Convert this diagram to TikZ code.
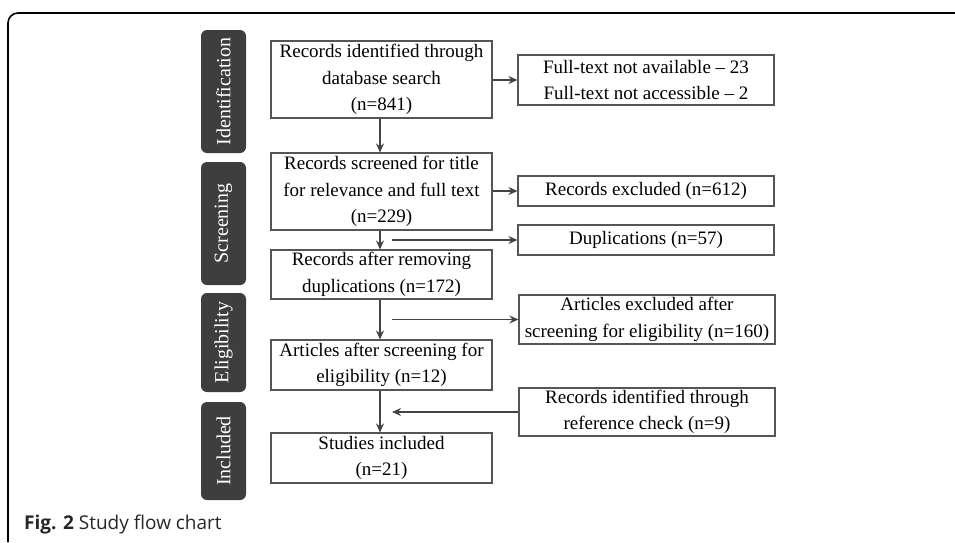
\documentclass[tikz,border=0pt]{standalone}
\usepackage{fontspec}
\setmainfont{Liberation Serif}
\newfontfamily\capfont{Open Sans}
\usetikzlibrary{arrows.meta}
\definecolor{sidegray}{HTML}{3E3E3E}
\definecolor{boxline}{HTML}{555555}
\definecolor{arrowgray}{HTML}{444444}
\begin{document}
\begin{tikzpicture}[x=1pt,y=-1pt,
  txt/.style={font=\fontsize{19}{26.5}\selectfont, align=center, text=black},
  mainbox/.style={txt, draw=boxline, line width=1.1pt, minimum width=221pt, inner sep=0pt},
  sidebox/.style={txt, draw=boxline, line width=1.1pt, minimum width=256pt, inner sep=0pt},
  phase/.style={fill=sidegray, rounded corners=6pt, minimum width=45pt, inner sep=0pt,
     text=white, font=\fontsize{20}{22}\selectfont},
  flow/.style={draw=arrowgray, line width=1.4pt, -{Stealth[length=9pt,width=8pt]}}
]
\useasboundingbox (0,0) rectangle (955,542);
% outer frame
\draw[line width=1.6pt, rounded corners=10pt] (8,542) -- (8,13) -- (955,13);

% phase bars
\node[phase, minimum height=123pt] (pid) at (223.5,91.5) {\rotatebox{90}{Identification}};
\node[phase, minimum height=123pt] (psc) at (223.5,223.5) {\rotatebox{90}{Screening}};
\node[phase, minimum height=99pt] (pel) at (223.5,342.5) {\rotatebox{90}{Eligibility}};
\node[phase, minimum height=98pt] (pin) at (223.5,451) {\rotatebox{90}{Included}};

% main boxes
\node[mainbox, minimum height=77pt] (b1) at (381.5,79.5) {Records identified through\\database search\\(n=841)};
\node[mainbox, minimum height=77pt] (b2) at (381.5,191.5) {Records screened for title\\for relevance and full text\\(n=229)};
\node[mainbox, minimum height=49pt] (b3) at (381.5,274.5) {Records after removing\\duplications (n=172)};
\node[mainbox, minimum height=50pt] (b4) at (381.5,365) {Articles after screening for\\eligibility (n=12)};
\node[mainbox, minimum height=50pt] (b5) at (381.5,458) {Studies included\\(n=21)};

% side boxes
\node[sidebox, minimum height=50pt] (r1) at (646,80) {Full-text not available -- 23\\Full-text not accessible -- 2};
\node[sidebox, minimum height=30pt] (r2) at (646,191) {Records excluded (n=612)};
\node[sidebox, minimum height=30pt] (r3) at (646,240) {Duplications (n=57)};
\node[sidebox, minimum height=49pt] (r4) at (647,319.5) {Articles excluded after\\screening for eligibility (n=160)};
\node[sidebox, minimum height=48pt] (r5) at (647,412) {Records identified through\\reference check (n=9)};

\coordinate (c3) at (392,240);
\coordinate (c4) at (392,319.5);
\coordinate (c5) at (392,412);

% connectors
\draw[flow] (b1.east |- r1.west) -- (r1.west);
\draw[flow] (b1.south -| 380,0) -- (b2.north -| 380,0);
\draw[flow] (b2.east |- r2.west) -- (r2.west);
\draw[flow] (b2.south -| 380,0) -- (b3.north -| 380,0);
\draw[flow] (c3) -- (c3 -| r3.west);
\draw[flow] (b3.south -| 380,0) -- (b4.north -| 380,0);
\draw[flow] (c4) -- (c4 -| r4.west);
\draw[flow] (b4.south -| 380,0) -- (b5.north -| 380,0);
\draw[flow] (c5 -| r5.west) -- (c5);

% caption
\node[anchor=base west, inner sep=0pt, font=\capfont\fontsize{19}{22}\selectfont, text=black!85] (cap) at (24,529)
  {\textbf{Fig. 2} Study flow chart};
\end{tikzpicture}
\end{document}
